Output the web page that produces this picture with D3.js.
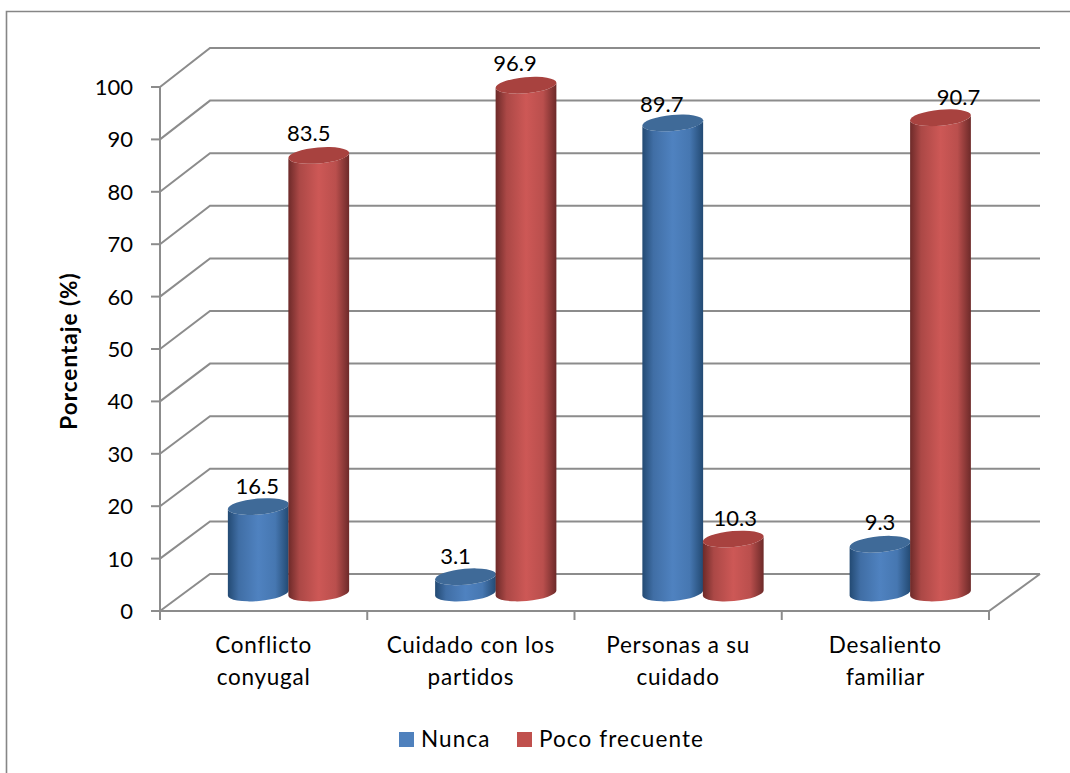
<!DOCTYPE html>
<html>
<head>
<meta charset="utf-8">
<script src="https://cdn.jsdelivr.net/npm/d3@7"></script>
<style>
html,body{margin:0;padding:0;background:#fff;overflow:hidden}
svg{display:block}
text{font-family:Lato,"Open Sans",sans-serif;fill:#000}
.words{letter-spacing:.75px;font-size:22.5px}
</style>
</head>
<body>
<svg id="chart" width="1070" height="773"></svg>
<script>
const categories = [["Conflicto","conyugal"],["Cuidado con los","partidos"],["Personas a su","cuidado"],["Desaliento","familiar"]];
const seriesNames = ["Nunca","Poco frecuente"];
const nunca = [16.5,3.1,89.7,9.3];
const pocoFrecuente = [83.5,96.9,10.3,90.7];
const yTicks = [0,10,20,30,40,50,60,70,80,90,100];

const svg = d3.select("#chart");

// Wall, floor and cylinder scales of the pseudo 3D plot box
const yFront = d3.scaleLinear().domain([0,100]).range([611,87]);
const yBack = d3.scaleLinear().domain([0,100]).range([574,48]);
const yBar = d3.scaleLinear().domain([0,100]).range([593,69]);
const xBand = d3.scaleBand().domain(d3.range(categories.length)).range([160,989]);
const xSeries = d3.scaleBand().domain([0,1]).range([68,189]);
const left = 160, right = 989, backLeft = 210, backRight = 1040;

const palette = [
  {edge:"#234a73", mid:"#4f82c0", cap:"#3f6a98", key:"#4f81bd"},
  {edge:"#6d2a29", mid:"#cd5856", cap:"#a8423f", key:"#c0504d"}
];

const defs = svg.append("defs");
palette.forEach((c,i)=>{
  const g = defs.append("linearGradient").attr("id","body"+i);
  [[0,c.edge],[.18,d3.interpolateRgb(c.edge,c.mid)(.65)],[.5,c.mid],[.78,d3.interpolateRgb(c.edge,c.mid)(.8)],[1,c.edge]]
    .forEach(([o,col])=>g.append("stop").attr("offset",o).attr("stop-color",col));
});

// The outer frame runs off the page on the right and at the bottom
svg.append("path").attr("d","M6.5,773V11.5H1070")
  .attr("fill","none").attr("stroke","#868686").attr("stroke-width",1.6);

const grid = svg.append("g").attr("fill","none").attr("stroke","#8c8c8c").attr("stroke-width",2);
yTicks.forEach(v=>{
  grid.append("path").attr("d",d3.line()([[left,yFront(v)],[backLeft,yBack(v)],[backRight,yBack(v)]]));
});
grid.append("path").attr("d",d3.line()([[left,yFront(100)],[left,yFront(0)],[right,yFront(0)],[backRight,yBack(0)]]));

// Tick marks on both axes
yTicks.forEach(v=>grid.append("line").attr("x1",left-9).attr("x2",left).attr("y1",yFront(v)).attr("y2",yFront(v)));
d3.range(categories.length+1).forEach(i=>{
  const x = left + i*xBand.step();
  grid.append("line").attr("x1",x).attr("x2",x).attr("y1",yFront(0)).attr("y2",yFront(0)+9);
});

svg.append("g").selectAll("text").data(yTicks).join("text")
  .attr("x",133).attr("y",v=>yFront(v)+8).attr("text-anchor","end")
  .attr("font-size",22).text(v=>v);

svg.append("text").attr("transform","translate(77,351) rotate(-90)")
  .attr("text-anchor","middle").attr("font-size",22.5).attr("font-weight",700)
  .attr("letter-spacing",1).text("Porcentaje (%)");

// One cylinder: side wall with two tilted elliptical arcs, then the darker cap
const rx = 30.5, ry = 8, tilt = -5;
const rad = tilt*Math.PI/180;
function cylinder(sel, cx, v, s){
  const c = palette[s];
  const top = yBar(v), base = yBar(0);
  const dx = rx*Math.cos(rad), dy = rx*Math.sin(rad);
  sel.append("path")
    .attr("d",`M${cx-dx},${top-dy}L${cx-dx},${base-dy}A${rx},${ry} ${tilt} 0 0 ${cx+dx},${base+dy}L${cx+dx},${top+dy}A${rx},${ry} ${tilt} 0 1 ${cx-dx},${top-dy}Z`)
    .attr("fill",`url(#body${s})`);
  sel.append("ellipse").attr("cx",0).attr("cy",0).attr("rx",rx).attr("ry",ry)
    .attr("transform",`translate(${cx},${top}) rotate(${tilt})`).attr("fill",c.cap);
}

const bars = svg.append("g");
categories.forEach((_,i)=>{
  const g = bars.append("g");
  [nunca,pocoFrecuente].forEach((values,s)=>{
    cylinder(g,xBand(i)+xSeries(s)+xSeries.bandwidth()/2,values[i],s);
  });
});

// Value labels sit where the chart engine placed them, not quite centred on each cylinder
const labelShift = [[-1,-5],[-10,-5],[-11,-3],[0,-6]];
const labelShiftRed = [[-10,-6],[-11,-6],[2,-5],[18,-5]];
categories.forEach((_,i)=>{
  [nunca,pocoFrecuente].forEach((values,s)=>{
    const shift = (s?labelShiftRed:labelShift)[i];
    const cx = xBand(i)+xSeries(s)+xSeries.bandwidth()/2;
    svg.append("text").attr("x",cx+shift[0]).attr("y",yBar(values[i])-ry+shift[1])
      .attr("text-anchor","middle").attr("font-size",22).text(values[i].toFixed(1));
  });
});

const catLabels = svg.append("g");
categories.forEach((lines,i)=>{
  lines.forEach((t,j)=>{
    catLabels.append("text").attr("class","words").attr("x",xBand(i)+xBand.bandwidth()/2).attr("y",653+j*32)
      .attr("text-anchor","middle").text(t);
  });
});

const legendX = [399,517];
seriesNames.forEach((n,s)=>{
  svg.append("rect").attr("x",legendX[s]).attr("y",732).attr("width",15).attr("height",15).attr("fill",palette[s].key);
  svg.append("text").attr("class","words").style("letter-spacing","1.1px").attr("x",legendX[s]+22).attr("y",747).text(n);
});
</script>
</body>
</html>
